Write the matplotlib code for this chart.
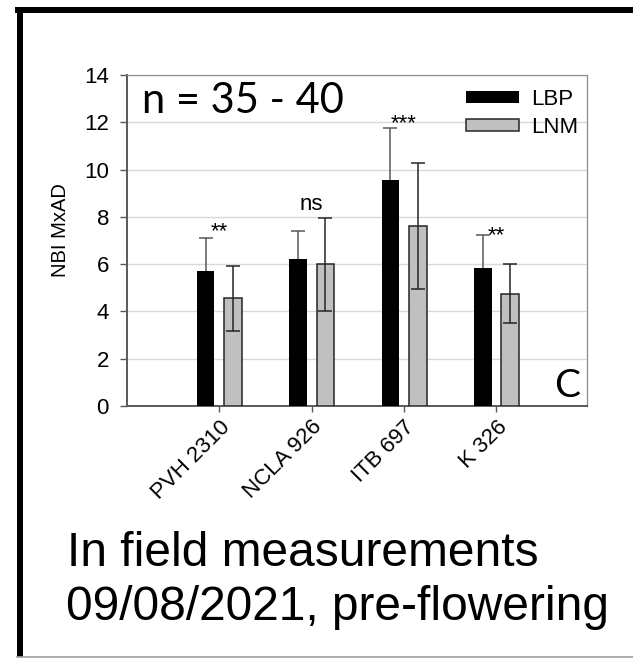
import numpy as np
import matplotlib.pyplot as plt
from matplotlib.patches import Rectangle
from matplotlib.lines import Line2D

cultivars = ['PVH 2310', 'NCLA 926', 'ITB 697', 'K 326']
lbp = [5.7, 6.2, 9.55, 5.85]
lbp_err = [1.42, 1.22, 2.2, 1.4]
lnm = [4.55, 6.0, 7.6, 4.75]
lnm_err = [1.38, 1.97, 2.67, 1.26]
signif = ['**', 'ns', '***', '**']
signif_y = [7.13, 8.29, 11.7, 6.98]

W, H = 633, 658
fig = plt.figure(figsize=(W / 100, H / 100), dpi=100)

def fx(px):
    return px / W

def fy(py):
    return 1 - py / H

arial = ['Liberation Sans', 'DejaVu Sans']
calibri = ['Lato', 'DejaVu Sans']

ax = fig.add_axes([fx(127), fy(406), fx(587) - fx(127), fy(75) - fy(406)])

x = np.arange(len(cultivars))
bw = 0.19
off = 0.148
ax.bar(x - off, lbp, bw, color='black', zorder=3)
# lower half of the LBP whisker sits behind the black bar
ax.errorbar(x - off, lbp, yerr=lbp_err, fmt='none', ecolor='#595959',
            elinewidth=1.1, capsize=5, capthick=1.1, zorder=2)
ax.bar(x + off, lnm, bw, color='#c0c0c0', edgecolor='#262626', linewidth=1.1, zorder=3)
ax.errorbar(x + off, lnm, yerr=lnm_err, fmt='none', ecolor='#262626',
            elinewidth=1.1, capsize=5, capthick=1.1, zorder=4)

for xi, s, yi in zip(x, signif, signif_y):
    ax.text(xi, yi, s, ha='center', va='baseline', fontsize=16, family=arial, zorder=5)

ax.set_xlim(-1, 3.98)
ax.set_ylim(0, 14)
ax.set_yticks(np.arange(0, 15, 2))
ax.set_xticks(x)
ax.set_xticklabels(cultivars, rotation=45, ha='right', va='top', rotation_mode='anchor',
                   fontsize=16, family=arial)
for lab in ax.get_yticklabels():
    lab.set_family(arial)
ax.tick_params(axis='y', labelsize=16, length=5, width=1, color='#595959', pad=8)
ax.tick_params(axis='x', length=4.5, width=1, color='#595959', pad=3)
ax.grid(axis='y', color='#d9d9d9', linewidth=1, zorder=0)
ax.set_axisbelow(True)
for side in ['left', 'bottom']:
    ax.spines[side].set_color('#595959')
    ax.spines[side].set_linewidth(1.4)
for side in ['top', 'right']:
    ax.spines[side].set_color('#8c8c8c')
    ax.spines[side].set_linewidth(0.9)

handles = [Rectangle((0, 0), 1, 1, facecolor='black'),
           Rectangle((0, 0), 1, 1, facecolor='#c0c0c0', edgecolor='#262626', linewidth=1.1)]
fig.legend(handles, ['LBP', 'LNM'], loc='upper left', bbox_to_anchor=(fx(465.7), fy(89)),
           frameon=False, borderpad=0, borderaxespad=0, handlelength=2.39, handleheight=0.45,
           handletextpad=0.55, labelspacing=0.3, prop={'family': arial, 'size': 16})

fig.text(fx(142), fy(113), 'n = 35 - 40', fontsize=30, family=calibri, va='baseline', ha='left')
fig.text(fx(580), fy(397), 'C', fontsize=28, family=calibri, va='baseline', ha='right')
fig.text(fx(61), fy(230), 'NBI MxAD', fontsize=14.5, family=arial, rotation=90,
         ha='center', va='center')

fig.text(fx(67), fy(565.7), 'In field measurements', fontsize=34.5, family=arial, va='baseline')
fig.text(fx(66), fy(620), '09/08/2021, pre-flowering', fontsize=34.5, family=arial, va='baseline')

# outer frame: heavy top and left edge, thin grey base
fig.add_artist(Rectangle((fx(15), fy(12.7)), 1 - fx(15), fy(7.3) - fy(12.7),
                         transform=fig.transFigure, facecolor='black', edgecolor='none'))
fig.add_artist(Rectangle((fx(16.7), fy(657)), fx(22.7) - fx(16.7), fy(7.3) - fy(657),
                         transform=fig.transFigure, facecolor='black', edgecolor='none'))
fig.add_artist(Line2D([fx(16.7), 1], [fy(656.7), fy(656.7)], transform=fig.transFigure,
                      color='#a0a0a0', linewidth=1.2))

fig.savefig('out.png', dpi=100)
